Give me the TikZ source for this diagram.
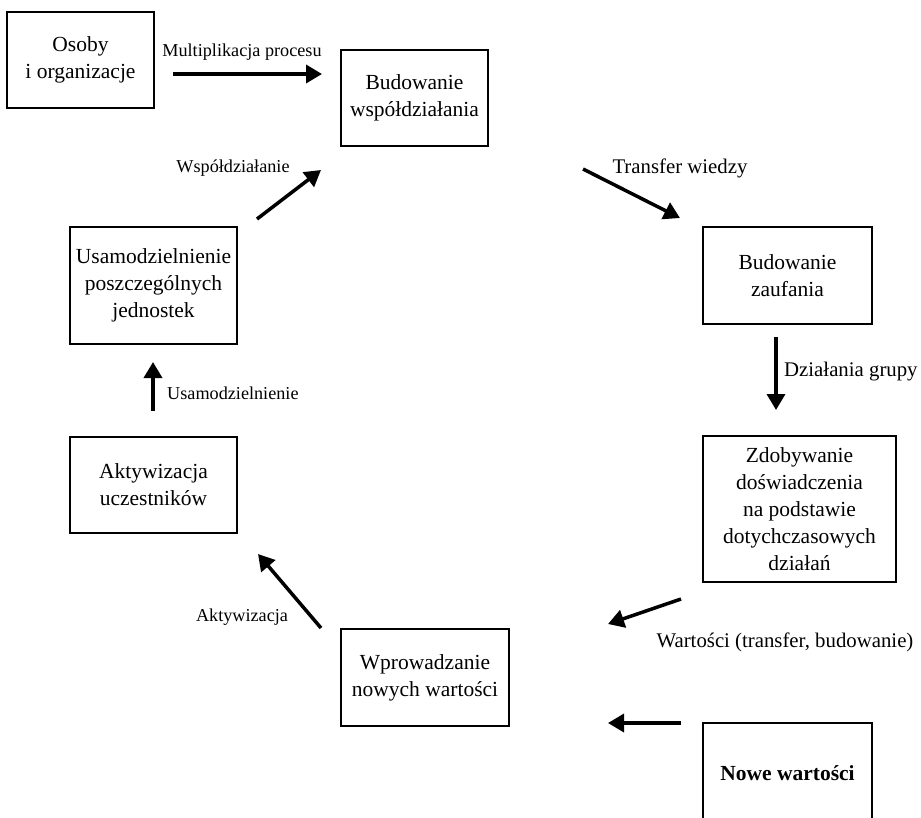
\documentclass[tikz,border=0pt]{standalone}
\usepackage{fontspec}
\setmainfont{Liberation Serif}
\usetikzlibrary{arrows.meta,positioning}

\begin{document}
\begin{tikzpicture}[x=1pt,y=-1pt,
  box/.style={draw,line width=1.4pt,align=center,inner sep=0pt,
    font=\fontsize{21.5}{27}\selectfont},
  lbl/.style={font=\fontsize{18.2}{22}\selectfont,inner sep=0pt},
  biglbl/.style={lbl,font=\fontsize{20.8}{25}\selectfont},
  flow/.style={line width=3.5pt,-{Triangle[length=16pt,width=18pt]}}]
 \clip (0,0) rectangle (921,817);
 \useasboundingbox (0,0) rectangle (921,817);
 % boxes
 \node [box,minimum width=147pt,minimum height=96pt] (osoby) at (80.5,60) {Osoby\\i organizacje};
 \node [box,minimum width=147pt,minimum height=96pt] (wspol) at (414.5,98) {Budowanie\\współdziałania};
 \node [box,minimum width=169pt,minimum height=97pt] (zaufanie) at (787.5,275.5) {Budowanie\\zaufania};
 \node [box,minimum width=193pt,minimum height=146pt] (doswiad) at (799.5,509) {Zdobywanie\\doświadczenia\\na podstawie\\dotychczasowych\\działań};
 \node [box,minimum width=168pt,minimum height=97pt] (wprow) at (425,677.5) {Wprowadzanie\\nowych wartości};
 \node [box,minimum width=169pt,minimum height=100pt] (nowe) at (787.5,773) {\bfseries Nowe wartości};
 \node [box,minimum width=167pt,minimum height=117pt] (usam) at (153.5,285.5) {Usamodzielnienie\\poszczególnych\\jednostek};
 \node [box,minimum width=167pt,minimum height=96pt] (aktyw) at (153.5,485) {Aktywizacja\\uczestników};
 % arrow ends
 \coordinate (multi-a) at (173,74);   \coordinate (multi-b) at (322,74);
 \coordinate (trans-a) at (583,169);  \coordinate (trans-b) at (680,218);
 \coordinate (grupa-a) at (776,337);  \coordinate (grupa-b) at (776,410);
 \coordinate (wart-a) at (681,599);   \coordinate (wart-b) at (608,624);
 \coordinate (nowe-a) at (681,723);   \coordinate (nowe-b) at (608,723);
 \coordinate (aktyw-a) at (321,628);  \coordinate (aktyw-b) at (258,554);
 \coordinate (usam-a) at (153,411);   \coordinate (usam-b) at (153,362);
 \coordinate (wspol-a) at (257,219);  \coordinate (wspol-b) at (321,170);
 \draw [flow] (multi-a) -- (multi-b);
 \draw [flow] (trans-a) -- (trans-b);
 \draw [flow] (grupa-a) -- (grupa-b);
 \draw [flow] (wart-a) -- (wart-b);
 \draw [flow] (nowe-a) -- (nowe-b);
 \draw [flow] (aktyw-a) -- (aktyw-b);
 \draw [flow] (usam-a) -- (usam-b);
 \draw [flow] (wspol-a) -- (wspol-b);
 % labels
 \node [lbl] (l-multi) at (242,52) {Multiplikacja procesu};
 \node [biglbl] (l-trans) at (680,168) {Transfer wiedzy};
 \node [biglbl,anchor=west] (l-grupa) at (784,372) {Działania grupy};
 \node [biglbl] (l-wart) at (785,642) {Wartości (transfer, budowanie)};
 \node [lbl] (l-aktyw) at (242,617) {Aktywizacja};
 \node [lbl,anchor=west] (l-usam) at (167,393) {Usamodzielnienie};
 \node [lbl] (l-wspol) at (233,168) {Współdziałanie};
\end{tikzpicture}
\end{document}
